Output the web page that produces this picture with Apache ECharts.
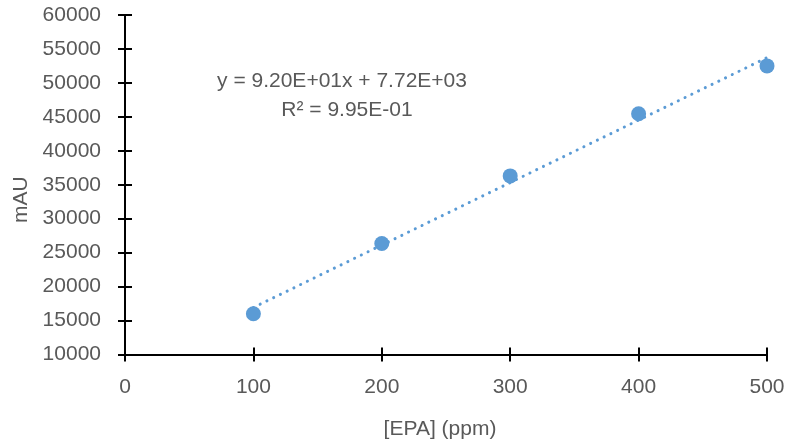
<!DOCTYPE html>
<html>
<head>
<meta charset="utf-8">
<script src="https://cdn.jsdelivr.net/npm/echarts@6/dist/echarts.min.js"></script>
<style>
  html, body { margin: 0; padding: 0; background: #fff; }
  #chart { width: 790px; height: 447px; }
</style>
</head>
<body>
<div id="chart"></div>
<script>
// 标定数据
const epaPpm = [100, 200, 300, 400, 500]
const mauValues = [16000, 26350, 36300, 45450, 52500]
// 趋势线两端
const trendX = [100, 500]
const trendY = [16920, 53720]
const eqLine1 = 'y = 9.20E+01x + 7.72E+03'
const eqLine2 = 'R² = 9.95E-01'

const FONT = 'Liberation Sans'
const TXT = '#595959'
const BLUE = '#5B9BD5'

const chart = echarts.init(document.getElementById('chart'), null, { renderer: 'canvas' })

const baseX = {
  type: 'value',
  min: 0,
  max: 500,
  interval: 100,
  splitLine: { show: false }
}
const baseY = {
  type: 'value',
  min: 10000,
  max: 60000,
  interval: 5000,
  splitLine: { show: false }
}

const option = {
  animation: false,
  grid: { left: 125, right: 23, top: 15, bottom: 92.5, containLabel: false, outerBoundsMode: 'none' },
  xAxis: [
    Object.assign({}, baseX, {
      name: '[EPA] (ppm)',
      nameLocation: 'middle',
      nameGap: 64,
      nameTextStyle: { color: TXT, fontFamily: FONT, fontSize: 21, padding: [0, 12, 0, 0] },
      axisLine: { lineStyle: { color: '#000', width: 2 } },
      axisTick: { length: 7, lineStyle: { color: '#000', width: 2 } },
      axisLabel: { color: TXT, fontFamily: FONT, fontSize: 21, margin: 22, formatter: v => String(v) }
    }),
    // 内侧刻度（交叉刻度）
    Object.assign({}, baseX, {
      position: 'bottom',
      axisLine: { show: false },
      axisTick: { inside: true, length: 7, lineStyle: { color: '#000', width: 2 } },
      axisLabel: { show: false }
    })
  ],
  yAxis: [
    Object.assign({}, baseY, {
      name: 'mAU',
      nameLocation: 'middle',
      nameGap: 91,
      nameTextStyle: { color: TXT, fontFamily: FONT, fontSize: 21, padding: [0, 30, 0, 0] },
      axisLine: { lineStyle: { color: '#000', width: 2 } },
      axisTick: { length: 7, lineStyle: { color: '#000', width: 2 } },
      axisLabel: { color: TXT, fontFamily: FONT, fontSize: 21, margin: 24, formatter: v => String(v) }
    }),
    Object.assign({}, baseY, {
      position: 'left',
      axisLine: { show: false },
      axisTick: { inside: true, length: 7, lineStyle: { color: '#000', width: 2 } },
      axisLabel: { show: false }
    })
  ],
  graphic: [
    {
      type: 'text',
      x: 342, y: 81,
      style: { text: eqLine1, align: 'center', verticalAlign: 'middle', fill: TXT, font: '21px "' + FONT + '"' }
    },
    {
      type: 'text',
      x: 347, y: 110,
      style: { text: eqLine2, align: 'center', verticalAlign: 'middle', fill: TXT, font: '21px "' + FONT + '"' }
    }
  ],
  series: [
    {
      name: 'trend',
      type: 'line',
      data: trendX.map((x, i) => [x, trendY[i]]),
      symbol: 'none',
      z: 1,
      lineStyle: { color: BLUE, width: 3, type: [0.1, 7.4], cap: 'round' }
    },
    {
      name: 'mAU',
      type: 'scatter',
      data: epaPpm.map((x, i) => [x, mauValues[i]]),
      symbol: 'circle',
      symbolSize: 15,
      z: 2,
      itemStyle: { color: BLUE, opacity: 1 }
    }
  ]
}

chart.setOption(option)
</script>
</body>
</html>
